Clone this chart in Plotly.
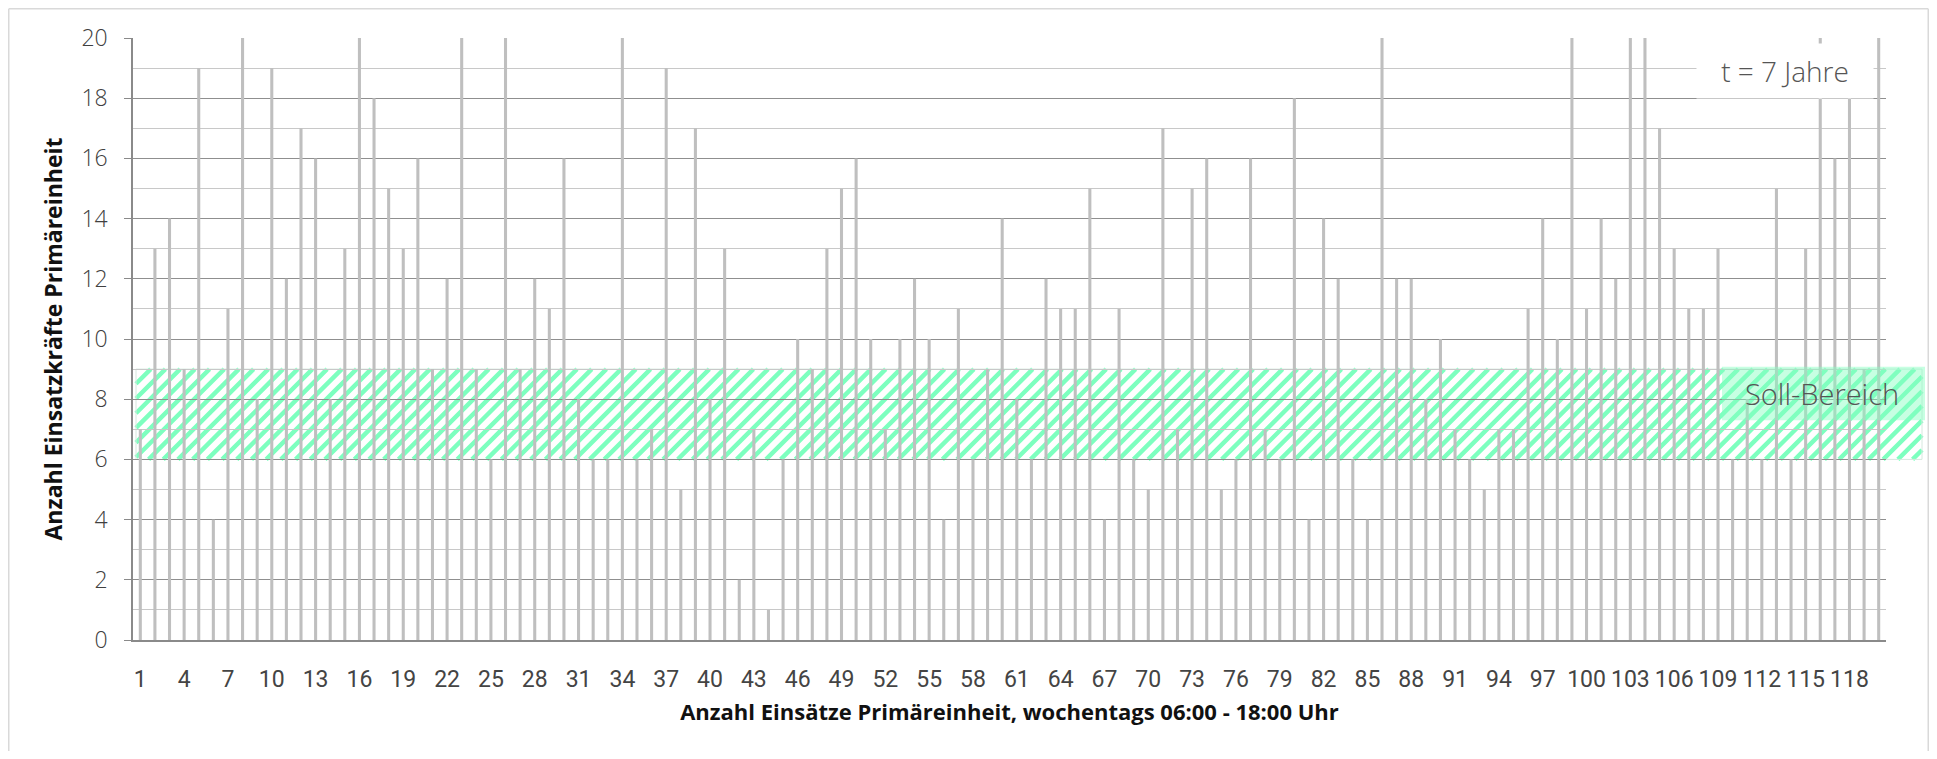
import plotly.graph_objects as go

# ---------------- data ----------------
einsatz_nr = list(range(1, 121))
einsatzkraefte = [
    7, 13, 14, 9, 19, 4, 11, 20, 8, 19,
    12, 17, 16, 8, 13, 20, 18, 15, 13, 16,
    9, 12, 20, 9, 6, 20, 9, 12, 11, 16,
    8, 6, 6, 20, 6, 7, 19, 5, 17, 8,
    13, 2, 7, 1, 6, 10, 9, 13, 15, 16,
    10, 7, 10, 12, 10, 4, 11, 6, 9, 14,
    8, 6, 12, 11, 11, 15, 4, 11, 6, 5,
    17, 7, 15, 16, 5, 6, 16, 7, 6, 18,
    4, 14, 12, 6, 4, 20, 12, 12, 8, 10,
    7, 6, 5, 7, 7, 11, 14, 10, 20, 11,
    14, 12, 20, 20, 17, 13, 11, 11, 13, 6,
    8, 6, 15, 6, 13, 20, 16, 18, 9, 20,
]
x_tickvals = list(range(1, 121, 3))
x_ticktext = [str(v) for v in x_tickvals]
y_tickvals = list(range(0, 21, 2))
soll_min, soll_max = 6, 9
soll_label = "Soll-Bereich"
zeitraum_label = "t = 7 Jahre"
x_title = "Anzahl Einsätze Primäreinheit, wochentags 06:00 - 18:00 Uhr"
y_title = "Anzahl Einsatzkräfte Primäreinheit"

# ---------------- layout geometry (page has 8px body margin) ----------------
OFF = 8
W, H = 1937 - 2 * OFF, 759 - 2 * OFF
ML, MT = 133 - OFF, 38 - OFF
MR = W - (1886 - OFF)
MB = H - (640 - OFF)
PW = W - ML - MR
PH = H - MT - MB
Y_MAX = 20


def fx(px_ref):
    """reference-window x pixel -> paper x"""
    return (px_ref - OFF - ML) / PW


def fy(py_ref):
    """reference-window y pixel -> paper y"""
    return (H - MB - (py_ref - OFF)) / PH


fig = go.Figure()
fig.add_trace(go.Bar(
    x=einsatz_nr, y=einsatzkraefte,
    marker=dict(color="#bfbfbf", line=dict(width=0)),
    width=0.21, showlegend=False, hoverinfo="x+y",
))

# ---- hatched target band (diagonal stripes), drawn as one path ----
band_x0_px, band_x1_px = 136, 1922
units_per_px = Y_MAX / PH
band_h_px = (soll_max - soll_min) / units_per_px
period = 14.7
segs = []
xs = band_x0_px - band_h_px
while xs < band_x1_px:
    sx, sy = xs, 0.0
    ex, ey = xs + band_h_px, band_h_px
    if sx < band_x0_px:
        sy = band_x0_px - sx
        sx = band_x0_px
    if ex > band_x1_px:
        ey = band_h_px - (ex - band_x1_px)
        ex = band_x1_px
    if ex > sx:
        segs.append("M{:.5f},{:.4f} L{:.5f},{:.4f}".format(
            fx(sx), soll_min + sy * units_per_px,
            fx(ex), soll_min + ey * units_per_px))
    xs += period
fig.add_shape(type="path", path=" ".join(segs), xref="paper", yref="y",
              line=dict(color="#7dffbf", width=4.4), layer="below")
fig.add_shape(type="rect", xref="paper", yref="y",
              x0=fx(band_x0_px), x1=fx(band_x1_px),
              y0=soll_min, y1=soll_max,
              line=dict(color="#d6e8df", width=1), layer="below")

# label box for Soll-Bereich
fig.add_shape(type="rect", xref="paper", yref="y",
              x0=fx(1722), x1=fx(1925),
              y0=7.3, y1=9.08,
              line=dict(width=0), fillcolor="rgba(130,255,190,0.45)", layer="above")
fig.add_annotation(text=soll_label, xref="paper", yref="y",
                   x=fx(1822), y=8.2, xanchor="center", yanchor="middle",
                   showarrow=False,
                   font=dict(family="Open Sans", size=29, color="#555555", weight=300))

# t = 7 Jahre box
fig.add_annotation(text=zeitraum_label, xref="paper", yref="paper",
                   x=fx(1785), y=fy(71), xanchor="center", yanchor="middle",
                   showarrow=False,
                   bgcolor="#ffffff", width=176, height=54, borderpad=0,
                   font=dict(family="Open Sans", size=28, color="#555555", weight=300))

# outer frame (left, top, right edges of the page)
frame = dict(color="#d9d9d9", width=1.5)
fig.add_shape(type="line", xref="paper", yref="paper",
              x0=fx(OFF + 0.75), x1=fx(OFF + 0.75), y0=fy(800), y1=fy(OFF + 0.75), line=frame)
fig.add_shape(type="line", xref="paper", yref="paper",
              x0=fx(OFF + 0.75), x1=fx(1937 - OFF - 0.75), y0=fy(OFF + 0.75), y1=fy(OFF + 0.75), line=frame)
fig.add_shape(type="line", xref="paper", yref="paper",
              x0=fx(1937 - OFF - 0.75), x1=fx(1937 - OFF - 0.75), y0=fy(800), y1=fy(OFF + 0.75), line=frame)

fig.update_layout(
    width=W, height=H,
    margin=dict(l=ML, r=MR, t=MT, b=MB, autoexpand=False),
    paper_bgcolor="#ffffff", plot_bgcolor="rgba(0,0,0,0)",
    bargap=0.79,
    font=dict(family="Open Sans", color="#404040"),
    xaxis=dict(
        range=[0.5, 120.5], tickmode="array",
        tickvals=x_tickvals, ticktext=x_ticktext,
        showgrid=False, zeroline=False, ticks="",
        showline=True, linecolor="#8a8a8a", linewidth=1.5,
        tickfont=dict(family="Liberation Sans Narrow, Roboto", size=23, color="#444444"),
        ticklabelstandoff=18,
        title=dict(text="<b>" + x_title + "</b>",
                   font=dict(family="Open Sans", size=22, color="#111111"),
                   standoff=12),
    ),
    yaxis=dict(
        range=[0, Y_MAX], tickmode="array", tickvals=y_tickvals,
        showgrid=True, gridcolor="#8f8f8f", gridwidth=1,
        minor=dict(dtick=1, showgrid=True, gridcolor="#c8c8c8", gridwidth=1, ticks=""),
        zeroline=False, ticks="outside", ticklen=7, tickcolor="#8a8a8a",
        showline=True, linecolor="#8a8a8a", linewidth=1.5,
        tickfont=dict(family="Open Sans", size=23, color="#404040", weight=300),
        ticklabelstandoff=12,
        title=dict(text="<b>" + y_title + "</b>",
                   font=dict(family="Open Sans", size=23, color="#111111"),
                   standoff=12),
    ),
)

fig.write_html("out.html")
